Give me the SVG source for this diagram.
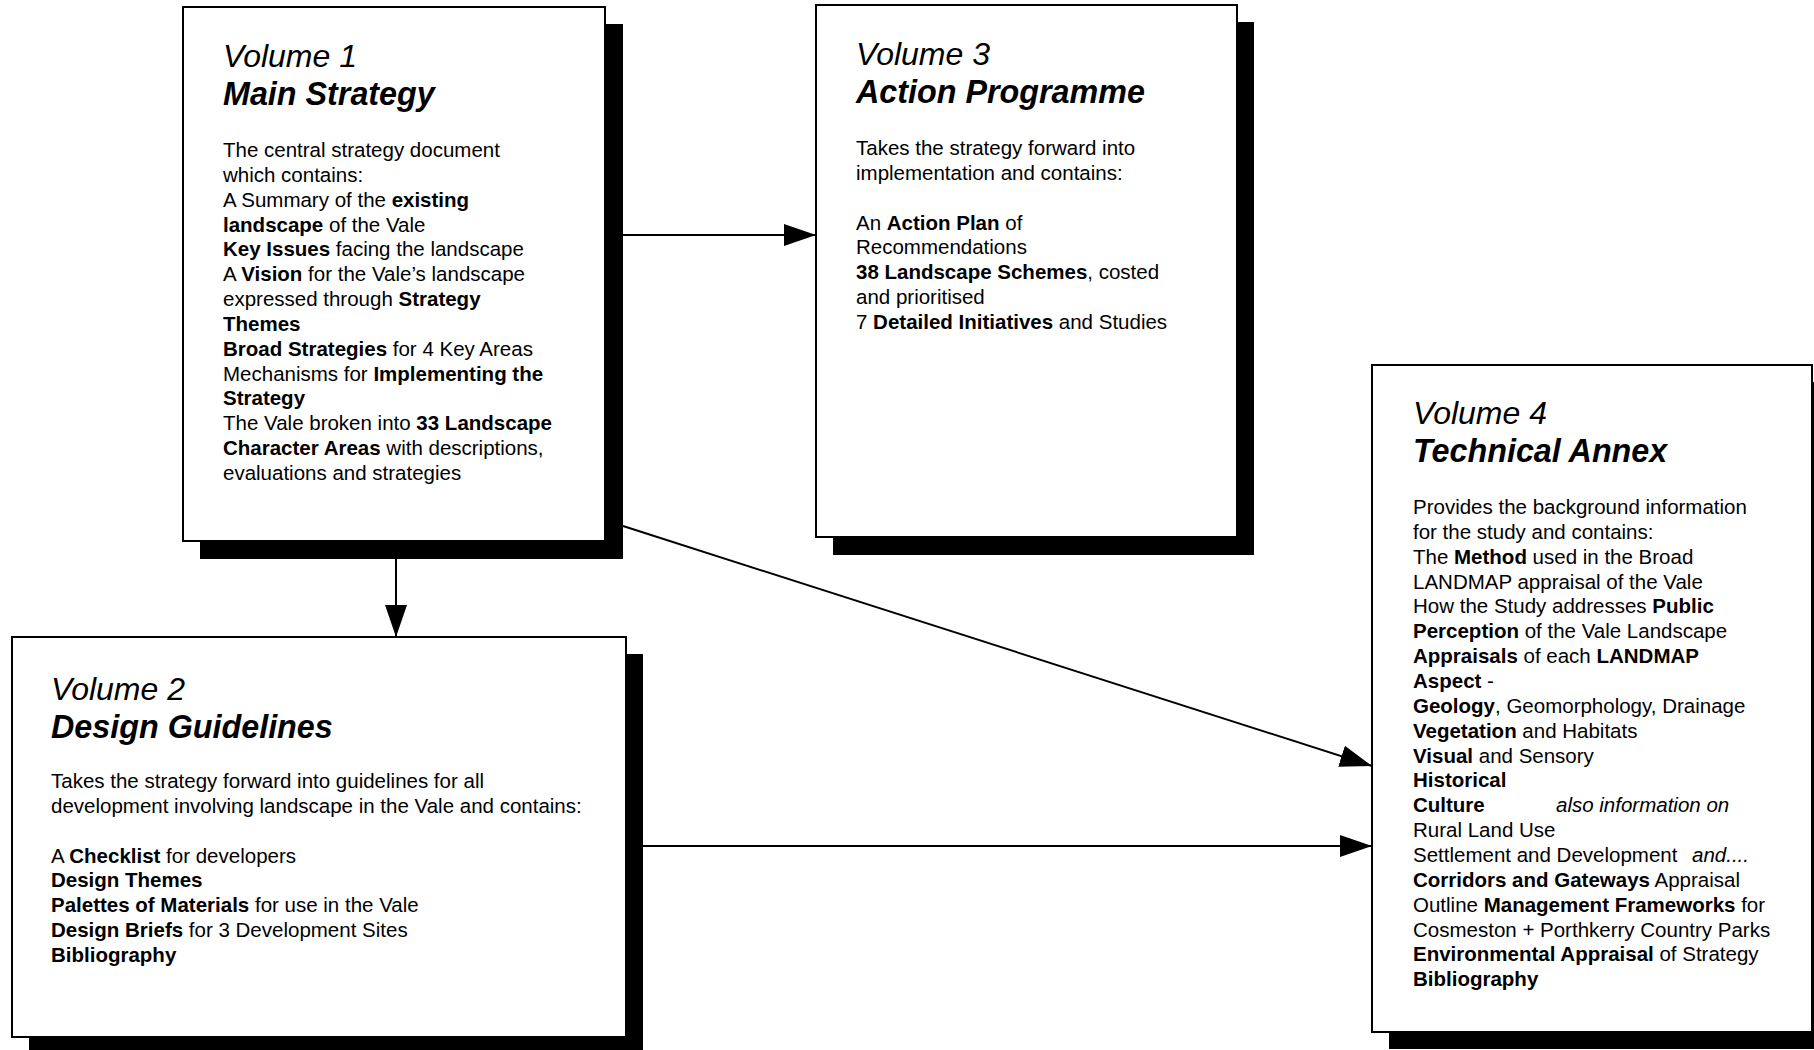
<svg xmlns="http://www.w3.org/2000/svg" width="1814" height="1050" viewBox="0 0 1814 1050">
<style>
  text { font-family: "Liberation Sans", Arial, sans-serif; fill: #000; }
  .vol { font-size: 32px; font-style: italic; }
  .ttl { font-size: 32.3px; font-style: italic; font-weight: bold; }
  .body { font-size: 20.5px; }
  .b { font-weight: bold; }
  .i { font-style: italic; }
  .box { fill: #fff; stroke: #000; stroke-width: 2; }
  .shadow { fill: #000; }
  .conn { stroke: #000; stroke-width: 2; fill: none; marker-end: url(#arrow); }
</style>
<defs>
  <marker id="arrow" markerUnits="userSpaceOnUse" markerWidth="32" markerHeight="22" refX="32" refY="11" orient="auto">
    <path d="M0,0 L32,11 L0,22 Z" fill="#000"/>
  </marker>
</defs>
<rect width="1814" height="1050" fill="#fff"/>

<g id="connectors">
  <line class="conn" x1="623" y1="235" x2="816" y2="235"/>
  <line class="conn" x1="396" y1="559" x2="396" y2="637"/>
  <line class="conn" x1="623" y1="526" x2="1372" y2="766"/>
  <line class="conn" x1="643" y1="846" x2="1372" y2="846"/>
</g>

<g id="volume1">
  <rect class="shadow" x="200" y="24" width="423" height="535"/>
  <rect class="box" x="183" y="7" width="422" height="534"/>
  <text class="vol" x="223" y="67">Volume 1</text>
  <text class="ttl" x="223" y="105">Main Strategy</text>
  <g class="body">
    <text x="223" y="157">The central strategy document</text>
    <text x="223" y="181.8">which contains:</text>
    <text x="223" y="206.7">A Summary of the <tspan class="b">existing</tspan></text>
    <text x="223" y="231.5"><tspan class="b">landscape</tspan> of the Vale</text>
    <text x="223" y="256.3"><tspan class="b">Key Issues</tspan> facing the landscape</text>
    <text x="223" y="281.2">A <tspan class="b">Vision</tspan> for the Vale’s landscape</text>
    <text x="223" y="306">expressed through <tspan class="b">Strategy</tspan></text>
    <text x="223" y="330.8"><tspan class="b">Themes</tspan></text>
    <text x="223" y="355.6"><tspan class="b">Broad Strategies</tspan> for 4 Key Areas</text>
    <text x="223" y="380.5">Mechanisms for <tspan class="b">Implementing the</tspan></text>
    <text x="223" y="405.3"><tspan class="b">Strategy</tspan></text>
    <text x="223" y="430.1">The Vale broken into <tspan class="b">33 Landscape</tspan></text>
    <text x="223" y="455"><tspan class="b">Character Areas</tspan> with descriptions,</text>
    <text x="223" y="479.8">evaluations and strategies</text>
  </g>
</g>

<g id="volume3">
  <rect class="shadow" x="833" y="22" width="421" height="533"/>
  <rect class="box" x="816" y="5" width="421" height="532"/>
  <text class="vol" x="856" y="65">Volume 3</text>
  <text class="ttl" x="856" y="103">Action Programme</text>
  <g class="body">
    <text x="856" y="155">Takes the strategy forward into</text>
    <text x="856" y="179.8">implementation and contains:</text>
    <text x="856" y="229.5">An <tspan class="b">Action Plan</tspan> of</text>
    <text x="856" y="254.4">Recommendations</text>
    <text x="856" y="279.2"><tspan class="b">38 Landscape Schemes</tspan>, costed</text>
    <text x="856" y="304.1">and prioritised</text>
    <text x="856" y="328.9">7 <tspan class="b">Detailed Initiatives</tspan> and Studies</text>
  </g>
</g>

<g id="volume2">
  <rect class="shadow" x="29" y="654" width="614" height="400"/>
  <rect class="box" x="12" y="637" width="614" height="400"/>
  <text class="vol" x="51" y="700">Volume 2</text>
  <text class="ttl" x="51" y="738">Design Guidelines</text>
  <g class="body">
    <text x="51" y="788">Takes the strategy forward into guidelines for all</text>
    <text x="51" y="812.8">development involving landscape in the Vale and contains:</text>
    <text x="51" y="862.5">A <tspan class="b">Checklist</tspan> for developers</text>
    <text x="51" y="887.4"><tspan class="b">Design Themes</tspan></text>
    <text x="51" y="912.2"><tspan class="b">Palettes of Materials</tspan> for use in the Vale</text>
    <text x="51" y="937.1"><tspan class="b">Design Briefs</tspan> for 3 Development Sites</text>
    <text x="51" y="961.9"><tspan class="b">Bibliography</tspan></text>
  </g>
</g>

<g id="volume4">
  <rect class="shadow" x="1389" y="382" width="440" height="667"/>
  <rect class="box" x="1372" y="365" width="440" height="667"/>
  <text class="vol" x="1413" y="424">Volume 4</text>
  <text class="ttl" x="1413" y="462">Technical Annex</text>
  <g class="body">
    <text x="1413" y="514">Provides the background information</text>
    <text x="1413" y="538.9">for the study and contains:</text>
    <text x="1413" y="563.7">The <tspan class="b">Method</tspan> used in the Broad</text>
    <text x="1413" y="588.6">LANDMAP appraisal of the Vale</text>
    <text x="1413" y="613.4">How the Study addresses <tspan class="b">Public</tspan></text>
    <text x="1413" y="638.3"><tspan class="b">Perception</tspan> of the Vale Landscape</text>
    <text x="1413" y="663.1"><tspan class="b">Appraisals</tspan> of each <tspan class="b">LANDMAP</tspan></text>
    <text x="1413" y="688"><tspan class="b">Aspect</tspan> -</text>
    <text x="1413" y="712.8"><tspan class="b">Geology</tspan>, Geomorphology, Drainage</text>
    <text x="1413" y="737.7"><tspan class="b">Vegetation</tspan> and Habitats</text>
    <text x="1413" y="762.5"><tspan class="b">Visual</tspan> and Sensory</text>
    <text x="1413" y="787.4"><tspan class="b">Historical</tspan></text>
    <text x="1413" y="812.2"><tspan class="b">Culture</tspan></text>
    <text x="1556" y="812.2" class="i">also information on</text>
    <text x="1413" y="837.1">Rural Land Use</text>
    <text x="1413" y="861.9">Settlement and Development</text>
    <text x="1692" y="861.9" class="i">and....</text>
    <text x="1413" y="886.8"><tspan class="b">Corridors and Gateways</tspan> Appraisal</text>
    <text x="1413" y="911.6">Outline <tspan class="b">Management Frameworks</tspan> for</text>
    <text x="1413" y="936.5">Cosmeston + Porthkerry Country Parks</text>
    <text x="1413" y="961.3"><tspan class="b">Environmental Appraisal</tspan> of Strategy</text>
    <text x="1413" y="986.2"><tspan class="b">Bibliography</tspan></text>
  </g>
</g>
</svg>
